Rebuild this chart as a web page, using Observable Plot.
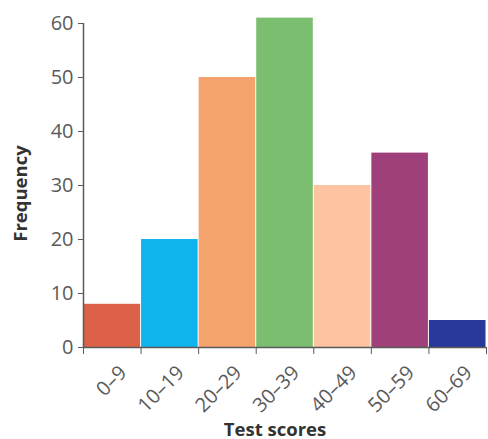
<!DOCTYPE html>
<html>
<head>
<meta charset="utf-8">
<script src="https://cdn.jsdelivr.net/npm/d3@7"></script>
<script src="https://cdn.jsdelivr.net/npm/@observablehq/plot@0.6"></script>
<style>
  html, body { margin: 0; padding: 0; background: #fff; }
  #chart svg { display: block; }
</style>
</head>
<body>
<div id="chart"></div>
<script>
// Score bands (10 points wide) and how many students fell in each
const categories = ["0–9", "10–19", "20–29", "30–39", "40–49", "50–59", "60–69"];
const lowerBounds = [0, 10, 20, 30, 40, 50, 60];
const frequencies = [8, 20, 50, 61, 30, 36, 5];
const barColors = ["#dd6048", "#0fb4ee", "#f5a36c", "#7cbe70", "#fcc4a0", "#9f407b", "#27399b"];
const yTicks = [0, 10, 20, 30, 40, 50, 60];
const binWidth = 10;

const bins = categories.map((label, i) => ({
  label,
  x1: lowerBounds[i],
  x2: lowerBounds[i] + binWidth,
  mid: lowerBounds[i] + binWidth / 2,
  count: frequencies[i],
  color: barColors[i]
}));
const edges = [...lowerBounds, lowerBounds[lowerBounds.length - 1] + binWidth];

const axisGray = "#5a5a5a";
const font = "'Open Sans', 'Noto Sans', sans-serif";

const chart = Plot.plot({
  width: 488,
  height: 439,
  marginLeft: 83,
  marginRight: 2,
  marginTop: 23,
  marginBottom: 92,
  style: { fontFamily: font, background: "#fff" },
  x: { domain: [0, 70] },
  y: { domain: [0, 60] },
  marks: [
    Plot.rect(bins, {
      x1: "x1", x2: "x2", y1: 0, y2: "count",
      fill: "color", insetLeft: 0.5, insetRight: 0.5
    }),
    // y axis
    Plot.axisY({
      ticks: yTicks, tickSize: 5, tickPadding: 5,
      fontSize: 20, color: axisGray, label: null
    }),
    Plot.ruleX([0], { stroke: axisGray, strokeWidth: 1.5 }),
    // x axis: ticks at the bin edges, labels at bin centres
    Plot.axisX({
      ticks: edges, tickSize: 7, tickFormat: () => "",
      color: axisGray, label: null
    }),
    Plot.ruleY([0], { stroke: axisGray, strokeWidth: 1.5 }),
    Plot.text(bins, {
      x: "mid", y: 0, text: "label",
      rotate: -45, textAnchor: "end", lineAnchor: "middle",
      dx: 11, dy: 22, fontSize: 20, fill: axisGray
    }),
    // axis titles
    Plot.text(["Frequency"], {
      frameAnchor: "left", textAnchor: "middle", dx: -62, dy: 8, rotate: -90,
      fontSize: 18.5, fontWeight: "bold", fill: "#333"
    }),
    Plot.text(["Test scores"], {
      frameAnchor: "bottom", textAnchor: "middle", dx: -10, dy: 88,
      fontSize: 18.5, fontWeight: "bold", fill: "#333"
    })
  ]
});

document.getElementById("chart").append(chart);
</script>
</body>
</html>
